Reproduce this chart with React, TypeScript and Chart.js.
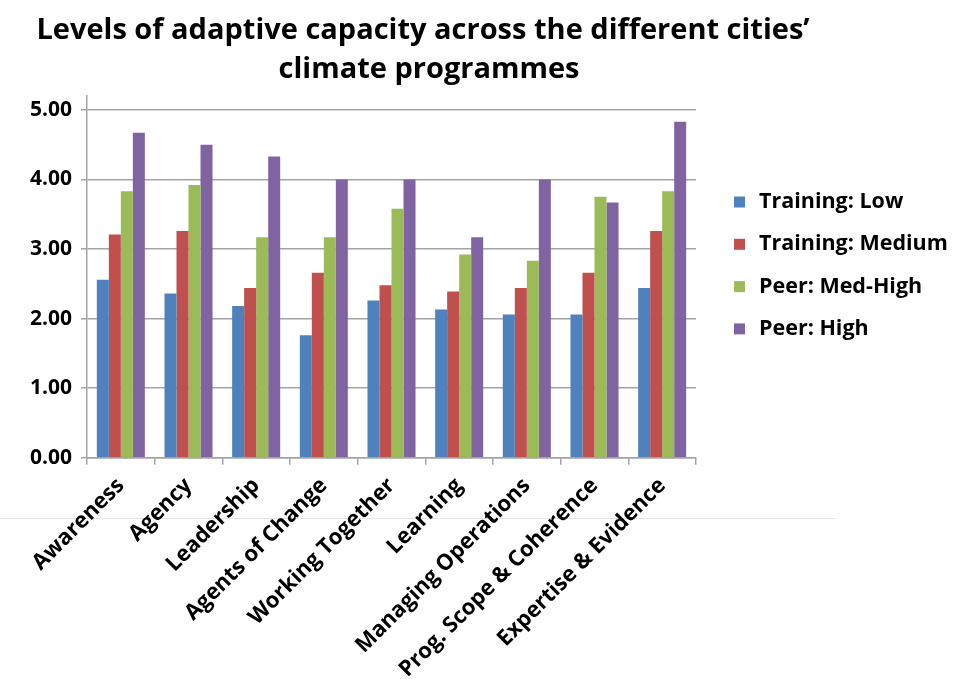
import React, { useEffect, useRef } from "react";
import { Chart, registerables } from "chart.js";

Chart.register(...registerables);

const titleLines = [
  "Levels of adaptive capacity across the different cities’",
  "climate programmes",
];

const categories = [
  "Awareness",
  "Agency",
  "Leadership",
  "Agents of Change",
  "Working Together",
  "Learning",
  "Managing Operations",
  "Prog. Scope & Coherence",
  "Expertise & Evidence",
];

const seriesNames = [
  "Training: Low",
  "Training: Medium",
  "Peer: Med-High",
  "Peer: High",
];

const trainingLow = [2.56, 2.36, 2.18, 1.76, 2.26, 2.13, 2.06, 2.06, 2.44];
const trainingMedium = [3.21, 3.26, 2.44, 2.66, 2.48, 2.39, 2.44, 2.66, 3.26];
const peerMedHigh = [3.83, 3.92, 3.17, 3.17, 3.58, 2.92, 2.83, 3.75, 3.83];
const peerHigh = [4.67, 4.5, 4.33, 4.0, 4.0, 3.17, 4.0, 3.67, 4.83];

const seriesColors = ["#4F81BD", "#C0504D", "#9BBB59", "#8064A2"];

const yTickValues = [0, 1, 2, 3, 4, 5];

const FONT = "'Open Sans', sans-serif";
const GRID = "#a3a3a3";

// Title, legend and the faint rule under the axis are painted by hand so they
// sit exactly where the layout wants them.
const decorations = {
  id: "decorations",
  beforeDraw(chart: Chart) {
    const ctx = chart.ctx;
    ctx.save();
    ctx.strokeStyle = "#e4e4e4";
    ctx.lineWidth = 1;
    ctx.beginPath();
    ctx.moveTo(0, 518.5);
    ctx.lineTo(835, 518.5);
    ctx.stroke();
    ctx.restore();
  },
  afterDraw(chart: Chart) {
    const ctx = chart.ctx;
    ctx.save();
    ctx.fillStyle = "#000";
    ctx.textAlign = "center";
    ctx.textBaseline = "middle";
    ctx.font = `bold 29px ${FONT}`;
    ctx.fillText(titleLines[0], 423, 31);
    ctx.fillText(titleLines[1], 429, 70);

    ctx.font = `bold 21.5px ${FONT}`;
    ctx.textAlign = "left";
    chart.data.datasets.forEach((ds, i) => {
      const cy = 202 + i * 42.3;
      ctx.fillStyle = ds.backgroundColor as string;
      ctx.fillRect(734, cy - 5.5, 11, 11);
      ctx.fillStyle = "#000";
      ctx.fillText(ds.label as string, 759, cy);
    });
    ctx.restore();
  },
};

export default function App() {
  const canvasRef = useRef<HTMLCanvasElement | null>(null);

  useEffect(() => {
    const canvas = canvasRef.current;
    if (!canvas) return;
    const series = [trainingLow, trainingMedium, peerMedHigh, peerHigh];
    const chart = new Chart(canvas, {
      type: "bar",
      data: {
        labels: categories,
        datasets: series.map((values, i) => ({
          label: seriesNames[i],
          data: values,
          backgroundColor: seriesColors[i],
          borderWidth: 0,
          categoryPercentage: 0.71,
          barPercentage: 1.0,
        })),
      },
      options: {
        responsive: false,
        animation: false,
        layout: { padding: { top: 96, right: 257, left: 0, bottom: 0 } },
        plugins: {
          legend: { display: false },
          title: { display: false },
          tooltip: { enabled: false },
        },
        scales: {
          x: {
            afterFit(scale: any) {
              scale.height = 679 - 457.7;
            },
            grid: {
              offset: true,
              drawOnChartArea: false,
              drawTicks: true,
              tickLength: 7,
              color: GRID,
              lineWidth: 1.5,
            },
            border: { color: GRID, width: 1.5 },
            ticks: {
              autoSkip: false,
              maxRotation: 45,
              minRotation: 45,
              padding: 8,
              color: "#000",
              font: { family: FONT, size: 22, weight: "bold" },
            },
          },
          y: {
            min: 0,
            max: 5.2,
            afterFit(scale: any) {
              scale.width = 87;
            },
            afterBuildTicks(scale: any) {
              scale.ticks = yTickValues.map((v) => ({ value: v }));
            },
            grid: {
              color: GRID,
              lineWidth: 1.5,
              drawTicks: true,
              tickLength: 6,
            },
            border: { color: GRID, width: 1.5 },
            ticks: {
              padding: 9,
              color: "#000",
              font: { family: FONT, size: 21, weight: "bold" },
              callback: (v: any) => Number(v).toFixed(2),
            },
          },
        },
      },
      plugins: [decorations],
    });
    return () => chart.destroy();
  }, []);

  return (
    <div style={{ position: "absolute", left: 0, top: 0, width: 953, height: 679, background: "#fff" }}>
      <canvas ref={canvasRef} width={953} height={679} />
    </div>
  );
}
